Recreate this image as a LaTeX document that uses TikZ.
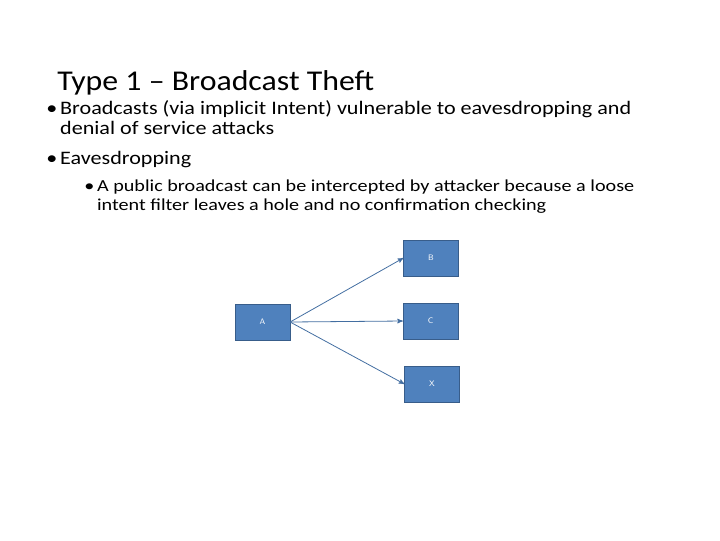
\documentclass[tikz,border=0pt]{standalone}
\usepackage{fontspec}
\setmainfont{Carlito}
\usetikzlibrary{arrows}
\definecolor{boxblue}{HTML}{4F81BD}
\definecolor{boxedge}{HTML}{385D8A}
\tikzset{
  box/.style={draw=boxedge,fill=boxblue,minimum width=41pt,minimum height=27pt,inner sep=0pt,text=white,font=\fontsize{6}{7}\selectfont\sffamily},
  link/.style={->,>=stealth',draw=boxblue!85!black,semithick}
}
\begin{document}
\begin{tikzpicture}[x=0.75pt,y=-0.75pt]
  \useasboundingbox (0,0) rectangle (720,540);

  \node[anchor=base west,font=\fontsize{21.5}{25}\selectfont,inner sep=0pt] (title) at (57,90) {\scalebox{1.11}[1]{Type 1 – Broadcast Theft}};
  \node[anchor=north west,font=\fontsize{14.3}{15}\selectfont,inner sep=0pt] (b1) at (46,100)
    {\scalebox{1.16}[1]{\begin{tabular}{@{}l@{}}\makebox[9pt][l]{•}Broadcasts (via implicit Intent) vulnerable to eavesdropping and\\
     \hspace*{9pt}denial of service attacks\end{tabular}}};
  \node[anchor=north west,font=\fontsize{14.3}{15}\selectfont,inner sep=0pt] (b2) at (46,151)
    {\scalebox{1.16}[1]{\makebox[9pt][l]{•}Eavesdropping}};
  \node[anchor=north west,font=\fontsize{12.6}{14}\selectfont,inner sep=0pt] (b3) at (84,178)
    {\scalebox{1.2}[1]{\begin{tabular}{@{}l@{}}\makebox[8pt][l]{•}A public broadcast can be intercepted by attacker because a loose\\
     \hspace*{8pt}intent filter leaves a hole and no confirmation checking\end{tabular}}};

  \node[box] (A) at (262.5,322) {A};
  \node[box] (B) at (431,258) {B};
  \node[box] (C) at (430.5,321) {C};
  \node[box] (X) at (432,384) {X};

  \draw[link] (A.east) -- (B.west);
  \draw[link] (A.east) -- (C.west);
  \draw[link] (A.east) -- (X.west);
\end{tikzpicture}
\end{document}
